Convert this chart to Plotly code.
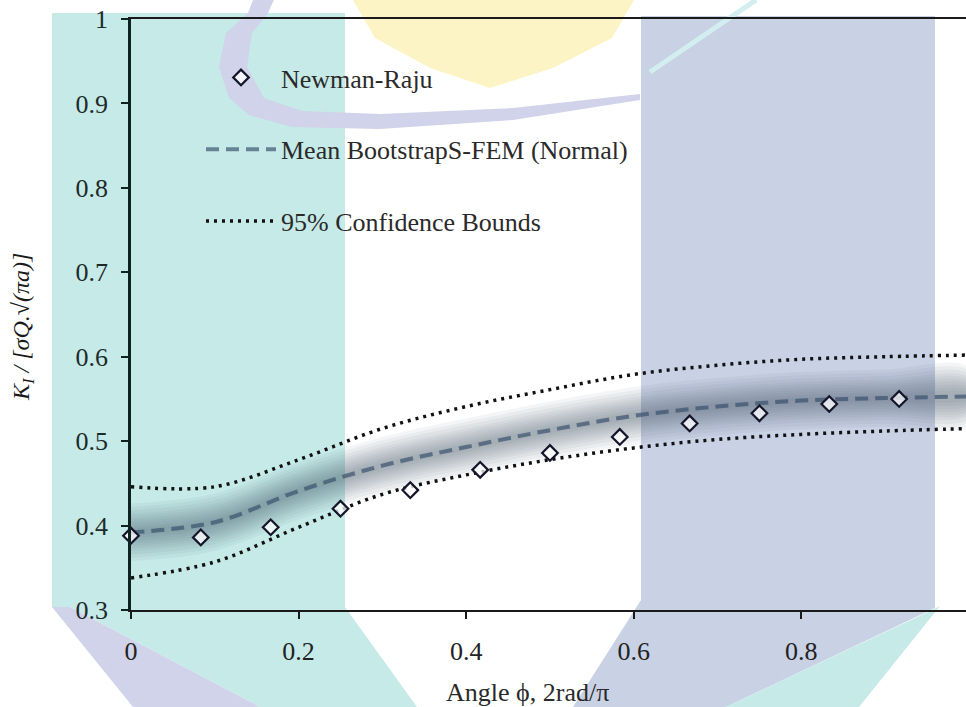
import plotly.graph_objects as go

# ---- data -------------------------------------------------------------
# Newman-Raju solution along the crack front
angle_nr = [0.0, 0.0833, 0.1667, 0.25, 0.3333, 0.4167, 0.5, 0.5833,
            0.6667, 0.75, 0.8333, 0.9167, 1.0]
k_newman_raju = [0.388, 0.386, 0.398, 0.420, 0.442, 0.466, 0.486, 0.505,
                 0.521, 0.533, 0.544, 0.550, 0.551]

# Bootstrap S-FEM mean and 95 % confidence bounds
angle_fem = [0.0, 0.1, 0.2, 0.3, 0.4, 0.5, 0.6, 0.7, 0.8, 0.9, 1.0]
k_mean = [0.392, 0.404, 0.441, 0.471, 0.493, 0.513, 0.530, 0.541, 0.548, 0.551, 0.553]
k_upper = [0.446, 0.446, 0.478, 0.515, 0.541, 0.561, 0.579, 0.590, 0.597, 0.600, 0.602]
k_lower = [0.338, 0.357, 0.398, 0.437, 0.460, 0.478, 0.492, 0.502, 0.508, 0.512, 0.515]

# spread of the bootstrap samples around the mean (soft halo)
halo_halfwidths = [0.034, 0.030, 0.026, 0.022, 0.019, 0.016, 0.013, 0.010, 0.007, 0.004]

x_ticks = [0, 0.2, 0.4, 0.6, 0.8]
y_ticks = [0.3, 0.4, 0.5, 0.6, 0.7, 0.8, 0.9, 1.0]

# ---- layout geometry --------------------------------------------------
W, H = 966, 707
ML, MR, MT, MB = 131, 0, 19, 97
PW, PH = W - ML - MR, H - MT - MB

SERIF = "Liberation Serif"


def to_paper(px, py):
    return (px - ML) / PW, (MT + PH - py) / PH


def poly(points):
    pts = [to_paper(x, y) for x, y in points]
    return "M " + " L ".join(f"{x:.4f},{y:.4f}" for x, y in pts) + " Z"


# ---- background emblem -------------------------------------------------
TEAL = "#c5eae8"
BLUE = "#c9d1e5"
LAV = "#d0d3e9"
YEL = "#fdf4c6"

emblem = [
    (TEAL, [(52, 13), (345, 13), (345, 607), (417, 707), (260, 707), (70, 607), (52, 607)]),
    (LAV, [(52, 607), (70, 607), (260, 707), (133, 707)]),
    (BLUE, [(641, 16), (935, 16), (935, 608), (726, 707), (573, 707), (641, 600)]),
    (TEAL, [(928, 612), (940, 606), (859, 707), (726, 707)]),
    (YEL, [(350, -5), (637, -5), (612, 38), (553, 68), (490, 88), (430, 68), (375, 38)]),
    (LAV, [(255, -5), (248, 13), (226, 33), (219, 67), (229, 98), (249, 115),
           (292, 127), (380, 129), (513, 120), (640, 100),
           (640, 94), (513, 108), (380, 114), (302, 111), (264, 98),
           (247, 67), (252, 33), (268, 13), (276, -5)]),
]

shapes = []
for color, pts in emblem:
    shapes.append(dict(type="path", xref="paper", yref="paper", path=poly(pts),
                       fillcolor=color, line=dict(width=0), layer="below"))
lx0, ly0 = to_paper(756, 0)
lx1, ly1 = to_paper(650, 72)
shapes.append(dict(type="line", xref="paper", yref="paper", x0=lx0, y0=ly0, x1=lx1, y1=ly1,
                   line=dict(color="#d3eeee", width=5), layer="below"))

# ---- traces -----------------------------------------------------------
fig = go.Figure()

for hw in halo_halfwidths:
    upper_edge = [m + hw for m in k_mean]
    lower_edge = [m - hw for m in k_mean]
    fig.add_trace(go.Scatter(
        x=angle_fem + angle_fem[::-1],
        y=upper_edge + lower_edge[::-1],
        mode="lines", fill="toself", line=dict(width=0, shape="spline"),
        fillcolor="rgba(70,80,100,0.06)", hoverinfo="skip", showlegend=False))

fig.add_trace(go.Scatter(
    x=angle_fem, y=k_upper, mode="lines", name="95% Confidence Bounds",
    legendgroup="ci", legendrank=3,
    line=dict(color="#111111", width=3.5, dash="3px,5px", shape="spline")))
fig.add_trace(go.Scatter(
    x=angle_fem, y=k_lower, mode="lines", name="95% Confidence Bounds",
    legendgroup="ci", showlegend=False,
    line=dict(color="#111111", width=3.5, dash="3px,5px", shape="spline")))

fig.add_trace(go.Scatter(
    x=angle_fem, y=k_mean, mode="lines", name="Mean BootstrapS-FEM (Normal)",
    legendgroup="mean", legendrank=2,
    line=dict(color="rgba(50,75,105,0.65)", width=4, dash="13px,7px", shape="spline")))

fig.add_trace(go.Scatter(
    x=angle_nr, y=k_newman_raju, mode="markers", name="Newman-Raju",
    legendgroup="nr", legendrank=1, cliponaxis=False,
    marker=dict(symbol="diamond", size=12, color="rgba(255,255,255,0.75)",
                line=dict(color="#15152a", width=2.2))))

# ---- axes titles --------------------------------------------------------
tx, ty = to_paper(527, 692)
yx, yy = to_paper(23, 327)
annotations = [
    dict(text="Angle ϕ, 2rad/π", xref="paper", yref="paper", x=tx, y=ty,
         xanchor="center", yanchor="middle", showarrow=False,
         font=dict(family=SERIF, size=26, color="#2a2a2a")),
    dict(text="<i>K<sub>I</sub> / [σQ.√(πa)]</i>", xref="paper", yref="paper",
         x=yx, y=yy, xanchor="center", yanchor="middle", textangle=-90,
         showarrow=False, font=dict(family=SERIF, size=24, color="#1a1a1a")),
]

lgx, lgy = to_paper(201, 54)

fig.update_layout(
    width=W, height=H,
    margin=dict(l=ML, r=MR, t=MT, b=MB),
    paper_bgcolor="white", plot_bgcolor="rgba(0,0,0,0)",
    shapes=shapes, annotations=annotations,
    font=dict(family=SERIF, size=26, color="#222222"),
    legend=dict(x=lgx, y=lgy, xanchor="left", yanchor="top",
                bgcolor="rgba(0,0,0,0)", borderwidth=0,
                font=dict(family=SERIF, size=26, color="#2a2a2a"),
                itemwidth=70, tracegroupgap=35, traceorder="grouped"),
    xaxis=dict(range=[0, 0.9965], tickvals=x_ticks, ticktext=[f"{v:g}" for v in x_ticks],
               showgrid=False, zeroline=False, showline=True, linecolor="#1a1a1a",
               linewidth=2, mirror=True, ticks="outside", ticklen=7, tickwidth=2,
               tickcolor="#1a1a1a", ticklabelstandoff=10,
               tickfont=dict(family=SERIF, size=26, color="#222222")),
    yaxis=dict(range=[0.3, 1.0], tickvals=y_ticks, ticktext=[f"{v:g}" for v in y_ticks],
               showgrid=False, zeroline=False, showline=True, linecolor="#0f2222",
               linewidth=2.5, mirror=False, ticks="outside", ticklen=7, tickwidth=2,
               tickcolor="#0f2222", ticklabelstandoff=8,
               tickfont=dict(family=SERIF, size=26, color="#1e2a2a")),
)

fig.write_html("out.html")
